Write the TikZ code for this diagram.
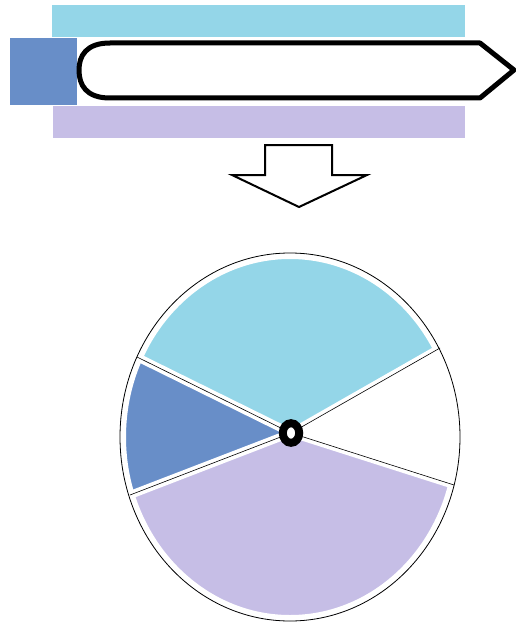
\documentclass[tikz,border=0pt]{standalone}
\usetikzlibrary{calc}
\definecolor{cyanbar}{RGB}{148,214,232}
\definecolor{bluesq}{RGB}{104,142,200}
\definecolor{lavbar}{RGB}{198,190,230}
\tikzset{
  thickline/.style={line width=5pt, line join=round},
  sectorline/.style={line width=0.6pt},
  gapline/.style={white, line width=8pt},
}
\begin{document}
\begin{tikzpicture}[x=1pt,y=-1pt]
\useasboundingbox (0,0) rectangle (516,623);
% top bars
\fill[cyanbar] (52,5) rectangle (465,37);
\fill[bluesq] (10,38) rectangle (77,105);
\fill[lavbar] (53,106) rectangle (465,138);
% pen outline
\draw[thickline] (480,43) -- (110,43) .. controls (86,43) and (79,56) .. (79,70)
   .. controls (79,85) and (86,98) .. (110,98) -- (480,98) -- (514,70) -- cycle;
% down arrow
\draw[line width=2pt, line join=miter] (265,145) -- (332,145) -- (332,175) -- (367,175)
   -- (299,207) -- (232,175) -- (265,175) -- cycle;
% wheel
\coordinate (H) at (291,433);
\coordinate (UL) at (137,357);
\coordinate (UR) at (440,348);
\coordinate (LR) at (454,485);
\coordinate (LL) at (130,495);
\begin{scope}
  \clip (290,437) ellipse [x radius=170, y radius=184];
  \fill[cyanbar] (H) -- ($(H)!1.3!(UL)$) -- (80,240) -- (500,240) -- ($(H)!1.3!(UR)$) -- cycle;
  \fill[bluesq] (H) -- ($(H)!1.3!(UL)$) -- ($(H)!1.3!(LL)$) -- cycle;
  \fill[lavbar] (H) -- ($(H)!1.3!(LL)$) -- (80,640) -- (500,640) -- ($(H)!1.3!(LR)$) -- cycle;
  \draw[white, line width=12pt] (290,437) ellipse [x radius=170, y radius=184];
  \draw[gapline] (H) -- ($(H)!1.3!(UL)$);
  \draw[gapline] (H) -- ($(H)!1.3!(UR)$);
  \draw[gapline] (H) -- ($(H)!1.3!(LL)$);
  \draw[gapline] (H) -- ($(H)!1.3!(LR)$);
\end{scope}
\draw[sectorline] (H) -- (UL);
\draw[sectorline] (H) -- (UR);
\draw[sectorline] (H) -- (LR);
\draw[sectorline] (H) -- (LL);
\draw[line width=0.8pt] (290,437) ellipse [x radius=170, y radius=184];
\filldraw[fill=white, draw=black, line width=8pt] (H) ellipse [x radius=8.2, y radius=9.8];
\end{tikzpicture}
\end{document}
